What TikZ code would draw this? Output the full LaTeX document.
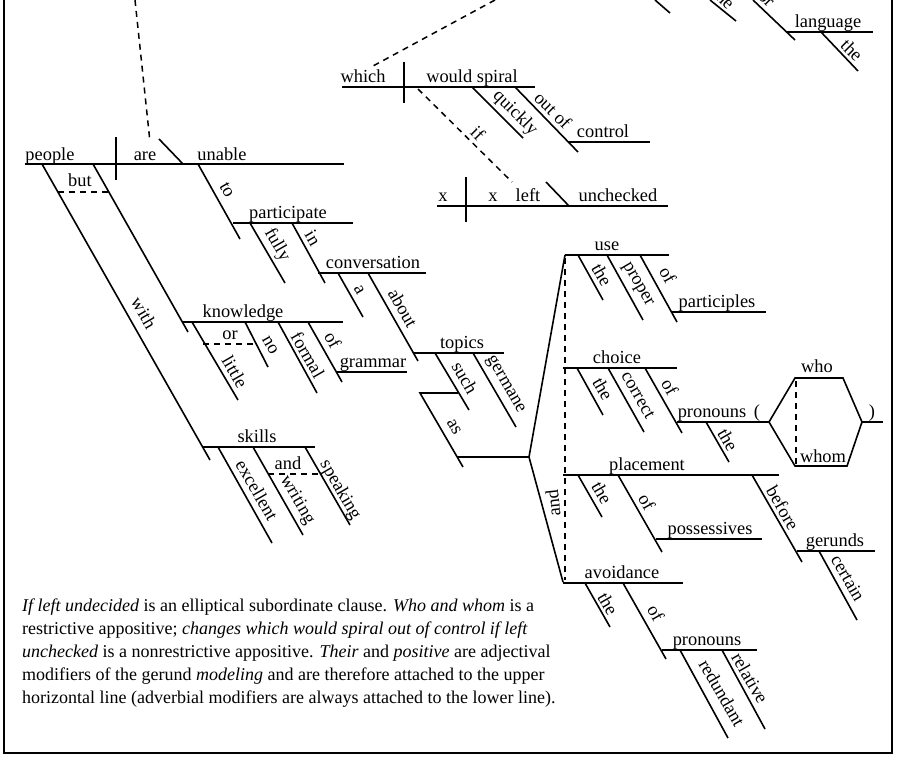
\documentclass[tikz,border=0pt]{standalone}
\usepackage{fontspec}
\setmainfont{Liberation Serif}
\usetikzlibrary{positioning}
\tikzset{
  word/.style   = {inner sep=0pt, anchor=base, font=\fontsize{18.4}{22}\selectfont},
  sword/.style  = {inner sep=0pt, rotate=-60, font=\fontsize{18.4}{22}\selectfont},
  tword/.style  = {inner sep=0pt, rotate=-45, font=\fontsize{18.4}{22}\selectfont},
  diag/.style   = {line width=1.6pt},
  link/.style   = {line width=1.5pt, dash pattern=on 6pt off 5pt},
  note/.style   = {inner sep=0pt, anchor=north west, align=left,
                   font=\fontsize{18}{23}\selectfont}
}

\begin{document}
\begin{tikzpicture}[x=1pt, y=-1pt]
\useasboundingbox (0,0) rectangle (898,764);
% frame
\draw[line width=1.8pt] (4,0) -- (4,753) -- (892,753) -- (892,0);

\begin{scope}
\clip (4,0) rectangle (892,753);

% main clause
\draw[link] (135,0) -- (150,142);
\draw[diag] (25,164) -- (344,164);
\draw[diag] (116,137) -- (116,180);
\draw[diag] (159,139) -- (183,164);
\node[word] (people) at (50,160) {people};
\node[word] (are) at (145,160) {are};
\node[word] (unable) at (222,160) {unable};

% with ... but
\draw[diag] (42,164) -- (210,460);
\draw[diag] (93,164) -- (188,332);
\draw[link] (58,192) -- (108,192);
\node[word] (but) at (80,186) {but};
\node[sword] (with) at (144,313) {with};

\draw[diag] (183,322) -- (343,322);
\node[word] (knowledge) at (243,317) {knowledge};
\draw[diag] (192,322) -- (238,400);
\draw[diag] (245,322) -- (268,367);
\draw[link] (203,344) -- (257,344);
\node[word] (or) at (230,339) {or};
\node[sword] (little) at (235,372) {little};
\node[sword] (no) at (270,345) {no};
\draw[diag] (278,322) -- (317,393);
\node[sword] (formal) at (308,355) {formal};
\draw[diag] (308,322) -- (342,382);
\node[sword] (ofg) at (333,340) {of};
\draw[diag] (337,372) -- (407,372);
\node[word] (grammar) at (373,367) {grammar};

\draw[diag] (203,447) -- (315,447);
\node[word] (skills) at (257,442) {skills};
\draw[diag] (218,447) -- (272,543);
\node[sword] (excellent) at (257,490) {excellent};
\draw[diag] (253,447) -- (303,535);
\node[sword] (writing) at (297,500) {writing};
\draw[diag] (305,447) -- (350,525);
\node[sword] (speaking) at (340,490) {speaking};
\draw[link] (268,474) -- (322,474);
\node[word] (ands) at (288,469) {and};

% to participate
\draw[diag] (198,164) -- (240,239);
\node[sword] (to) at (227,190) {to};
\draw[diag] (233,223) -- (353,223);
\node[word] (participate) at (288,218) {participate};
\draw[diag] (250,223) -- (285,283);
\node[sword] (fully) at (277,245) {fully};
\draw[diag] (292,223) -- (325,283);
\node[sword] (in) at (313,238) {in};
\draw[diag] (318,273) -- (426,273);
\node[word] (conversation) at (373,268) {conversation};
\draw[diag] (338,273) -- (363,317);
\node[sword] (a) at (359,290) {a};
\draw[diag] (368,273) -- (418,361);
\node[sword] (about) at (403,308) {about};
\draw[diag] (413,353) -- (504,353);
\node[word] (topics) at (462,348) {topics};
\draw[diag] (435,353) -- (469,410);
\node[sword] (such) at (465,378) {such};
\draw[diag] (473,353) -- (516,427);
\node[sword] (germane) at (505,385) {germane};
\draw[diag] (458,393) -- (420,393) -- (463,467);
\node[sword] (as) at (454,427) {as};
\draw[diag] (457,457) -- (529,457);
\draw[diag] (565,255) -- (529,457) -- (563,582);
\node[word, anchor=center, rotate=96] (andf) at (553,503) {and};
\draw[link] (565,258) -- (565,580);

% which clause
\draw[link] (495,0) -- (373,66);
\draw[diag] (342,87) -- (535,87);
\draw[diag] (404,62) -- (404,103);
\node[word] (which) at (363,82) {which};
\node[word] (spiral) at (472,82) {would spiral};
\draw[diag] (472,87) -- (523,138);
\node[tword] (quickly) at (515,113) {quickly};
\draw[diag] (515,87) -- (578,152);
\node[tword] (outof) at (553,110) {out of};
\draw[diag] (568,142) -- (650,142);
\node[word] (control) at (603,137) {control};
\draw[link] (418,89) -- (512,182);
\node[tword] (if) at (478,133) {if};
\draw[diag] (437,206) -- (668,206);
\draw[diag] (466,177) -- (466,222);
\draw[diag] (546,182) -- (569,206);
\node[word] (x1) at (443,201) {x};
\node[word] (x2) at (493,201) {x};
\node[word] (left) at (528,201) {left};
\node[word] (unchecked) at (618,201) {unchecked};

% top right
\draw[diag] (655,0) -- (670,13);
\draw[diag] (710,0) -- (736,21);
\node[tword] (thet) at (724,-2) {the};
\draw[diag] (753,0) -- (795,40);
\node[tword] (for) at (765,-4) {for};
\draw[diag] (787,32) -- (873,32);
\node[word] (language) at (828,27) {language};
\draw[diag] (821,32) -- (858,71);
\node[tword] (thel) at (852,50) {the};

% use
\draw[diag] (565,255) -- (669,255);
\node[word] (use) at (607,250) {use};
\draw[diag] (578,255) -- (603,300);
\node[sword] (theu) at (602,275) {the};
\draw[diag] (607,255) -- (643,320);
\node[sword] (proper) at (637,285) {proper};
\draw[diag] (640,255) -- (677,322);
\node[sword] (ofu) at (668,275) {of};
\draw[diag] (672,312) -- (766,312);
\node[word] (participles) at (717,307) {participles};

% choice
\draw[diag] (563,368) -- (677,368);
\node[word] (choice) at (617,363) {choice};
\draw[diag] (577,368) -- (603,415);
\node[sword] (thec) at (603,389) {the};
\draw[diag] (608,368) -- (644,432);
\node[sword] (correct) at (638,395) {correct};
\draw[diag] (645,368) -- (682,433);
\node[sword] (ofc) at (670,387) {of};
\draw[diag] (677,422) -- (769,422);
\node[word] (pronounsc) at (712,417) {pronouns};
\node[word] (lpar) at (757,417) {(};
\draw[diag] (706,422) -- (729,462);
\node[sword] (thep) at (728,440) {the};
\draw[diag] (769,422) -- (795,378) -- (843,378) -- (862,422) -- (847,466)
  -- (795,466) -- cycle;
\draw[link] (796,381) -- (796,464);
\draw[diag] (862,422) -- (883,422);
\node[word] (rpar) at (872,417) {)};
\node[word] (who) at (817,372) {who};
\node[word] (whom) at (823,462) {whom};

% placement
\draw[diag] (563,475) -- (779,475);
\node[word] (placement) at (647,470) {placement};
\draw[diag] (578,475) -- (602,517);
\node[sword] (thepl) at (602,493) {the};
\draw[diag] (618,475) -- (662,552);
\node[sword] (ofpl) at (647,502) {of};
\draw[diag] (656,539) -- (762,539);
\node[word] (possessives) at (710,534) {possessives};
\draw[diag] (752,475) -- (802,562);
\node[sword] (before) at (783,508) {before};
\draw[diag] (797,551) -- (875,551);
\node[word] (gerunds) at (835,546) {gerunds};
\draw[diag] (819,551) -- (857,620);
\node[sword] (certain) at (848,578) {certain};

% avoidance
\draw[diag] (563,583) -- (683,583);
\node[word] (avoidance) at (622,578) {avoidance};
\draw[diag] (585,583) -- (610,627);
\node[sword] (thea) at (608,604) {the};
\draw[diag] (623,583) -- (666,659);
\node[sword] (ofa) at (656,613) {of};
\draw[diag] (662,650) -- (757,650);
\node[word] (pronounsa) at (707,645) {pronouns};
\draw[diag] (680,650) -- (728,738);
\node[sword] (redundant) at (722,693) {redundant};
\draw[diag] (722,650) -- (765,729);
\node[sword] (relative) at (750,678) {relative};
\end{scope}

% caption
\node[note] (caption) at (22,599) {%
\textit{If left undecided} is an elliptical subordinate clause. \textit{Who and whom} is a\\
restrictive appositive; \textit{changes which would spiral out of control if left}\\
\textit{unchecked} is a nonrestrictive appositive. \textit{Their} and \textit{positive} are adjectival\\
modifiers of the gerund \textit{modeling} and are therefore attached to the upper\\
horizontal line (adverbial modifiers are always attached to the lower line).};
\end{tikzpicture}
\end{document}
